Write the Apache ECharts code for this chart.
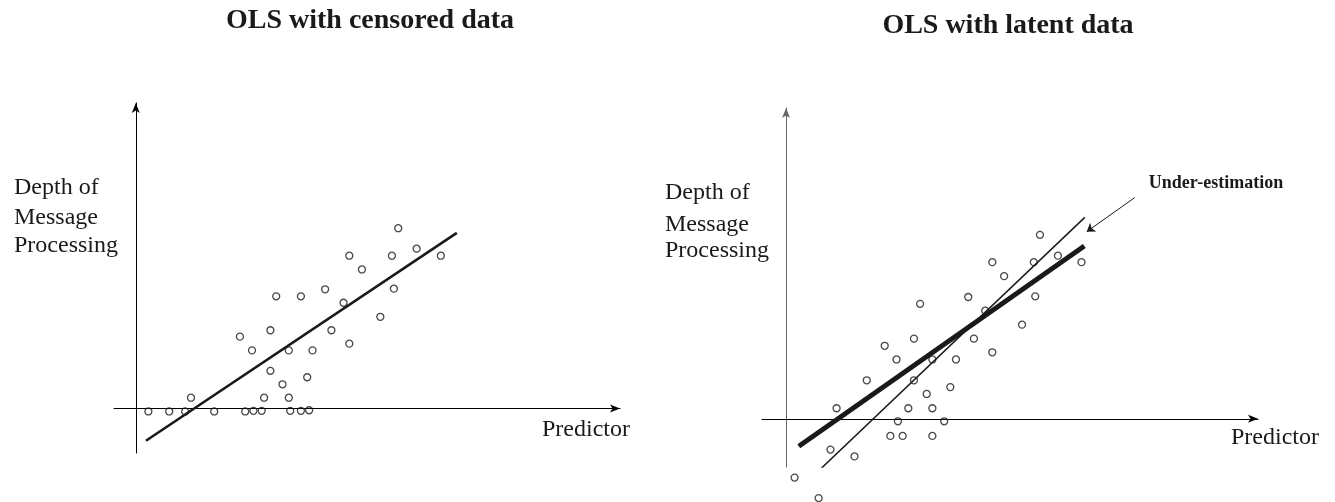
<!DOCTYPE html>
<html>
<head>
<meta charset="utf-8">
<script src="https://cdn.jsdelivr.net/npm/echarts@6/dist/echarts.min.js"></script>
<style>html,body{margin:0;padding:0;background:#fff;}#c{width:1335px;height:502px;}</style>
</head>
<body>
<div id="c"></div>
<script>
// Left panel: observed (censored) data, censored points sit at the floor
var censoredPoints = [
  [0.26,-0.1],[0.69,-0.1],[1.02,-0.1],[1.14,0.35],[1.62,-0.1],[2.26,-0.1],[2.43,-0.08],
  [2.60,-0.08],[3.19,-0.08],[3.41,-0.08],[3.58,-0.06],[2.15,2.35],[2.40,1.90],[2.78,2.56],
  [2.90,3.67],[3.41,3.67],[3.91,3.90],[4.29,3.46],[4.04,2.56],[3.16,1.90],[3.65,1.90],
  [2.78,1.23],[3.03,0.79],[2.65,0.35],[3.16,0.35],[3.54,1.02],[4.41,5.00],[4.67,4.55],
  [4.41,2.12],[5.05,3.00],[5.33,3.92],[5.29,5.00],[5.42,5.90],[5.80,5.23],[6.30,5.00]
];
var censoredFit = [[0.21,-1.06],[6.63,5.75]];

// Right panel: latent data
var latentPoints = [
  [0.18,-1.89],[0.69,-2.55],[0.94,-0.99],[1.45,-1.21],[1.07,0.34],[1.71,1.24],[2.09,2.35],
  [2.34,1.91],[2.71,2.58],[2.84,3.70],[2.71,1.24],[2.59,0.34],[2.37,-0.08],[2.21,-0.55],
  [2.47,-0.55],[2.98,0.80],[3.10,0.34],[3.10,-0.55],[3.35,-0.08],[3.48,1.02],[3.10,1.91],
  [3.60,1.91],[3.86,3.92],[3.98,2.58],[4.22,3.48],[4.37,2.14],[4.37,5.04],[4.62,4.59],
  [5.00,3.03],[5.28,3.94],[5.25,5.04],[5.38,5.92],[5.76,5.25],[6.26,5.04]
];
var censoredFitOnLatent = [[0.27,-0.88],[6.32,5.56]];
var latentFit = [[0.63,-1.76],[6.33,6.48]];
var arrowFrom = [7.39,7.12];
var arrowTo = [6.37,6.02];

var titles = ['OLS with censored data', 'OLS with latent data'];
var yLabelLines = ['Depth of', 'Message', 'Processing'];
var xLabel = 'Predictor';
var annotation = 'Under-estimation';

var SERIF = '"Liberation Serif", "Times New Roman", serif';
var INK = '#1a1a1a';

function axis(min, max, color) {
  return {
    type: 'value', min: min, max: max,
    axisLine: {show: true, onZero: true, symbol: ['none', 'arrow'], symbolSize: [6, 10],
      lineStyle: {color: color || '#000', width: 1}},
    axisTick: {show: false}, axisLabel: {show: false}, splitLine: {show: false}
  };
}
var pointStyle = {color: 'rgba(0,0,0,0)', borderColor: INK, borderWidth: 1.3};

var chart = echarts.init(document.getElementById('c'));
var graphics = [];
function txt(x, y, s, size, bold, align) {
  graphics.push({type: 'text', x: x, y: y, silent: true,
    style: {text: s, x: 0, y: 0, fill: INK, font: (bold ? 'bold ' : '') + size + 'px ' + SERIF,
      textAlign: align || 'left', textVerticalAlign: 'middle'}});
}
txt(370, 21, titles[0], 28, true, 'center');
txt(1008, 26, titles[1], 28, true, 'center');
[188, 218, 246].forEach(function (y, i) { txt(14, y, yLabelLines[i], 24, false); });
[193, 225, 251].forEach(function (y, i) { txt(665, y, yLabelLines[i], 24, false); });
txt(542, 430, xLabel, 24, false);
txt(1231, 438, xLabel, 24, false);
txt(1216, 183, annotation, 18, true, 'center');

chart.setOption({
  animation: false,
  backgroundColor: '#fff',
  grid: [
    {left: 114, right: 715, top: 103, bottom: 49},
    {left: 762, right: 77, top: 108, bottom: 35}
  ],
  xAxis: [
    Object.assign(axis(-0.45, 10), {gridIndex: 0}),
    Object.assign(axis(-0.51, 10), {gridIndex: 1})
  ],
  yAxis: [
    Object.assign(axis(-1.46, 10), {gridIndex: 0}),
    Object.assign(axis(-1.55, 10, '#666'), {gridIndex: 1})
  ],
  series: [
    {type: 'line', xAxisIndex: 0, yAxisIndex: 0, data: censoredFit, symbol: 'none',
      lineStyle: {color: INK, width: 2.6}, silent: true},
    {type: 'scatter', xAxisIndex: 0, yAxisIndex: 0, data: censoredPoints, symbol: 'circle',
      symbolSize: 7, itemStyle: pointStyle, clip: false, silent: true},
    {type: 'line', xAxisIndex: 1, yAxisIndex: 1, data: censoredFitOnLatent, symbol: 'none',
      lineStyle: {color: INK, width: 5}, silent: true},
    {type: 'line', xAxisIndex: 1, yAxisIndex: 1, data: latentFit, symbol: 'none',
      lineStyle: {color: INK, width: 1.5}, silent: true,
      markLine: {silent: true, animation: false, symbol: ['none', 'arrow'], symbolSize: 8,
        label: {show: false}, lineStyle: {color: INK, width: 1, type: 'solid'},
        data: [[{coord: arrowFrom}, {coord: arrowTo}]]}},
    {type: 'scatter', xAxisIndex: 1, yAxisIndex: 1, data: latentPoints, symbol: 'circle',
      symbolSize: 7, itemStyle: pointStyle, clip: false, silent: true}
  ],
  graphic: graphics
});
</script>
</body>
</html>
